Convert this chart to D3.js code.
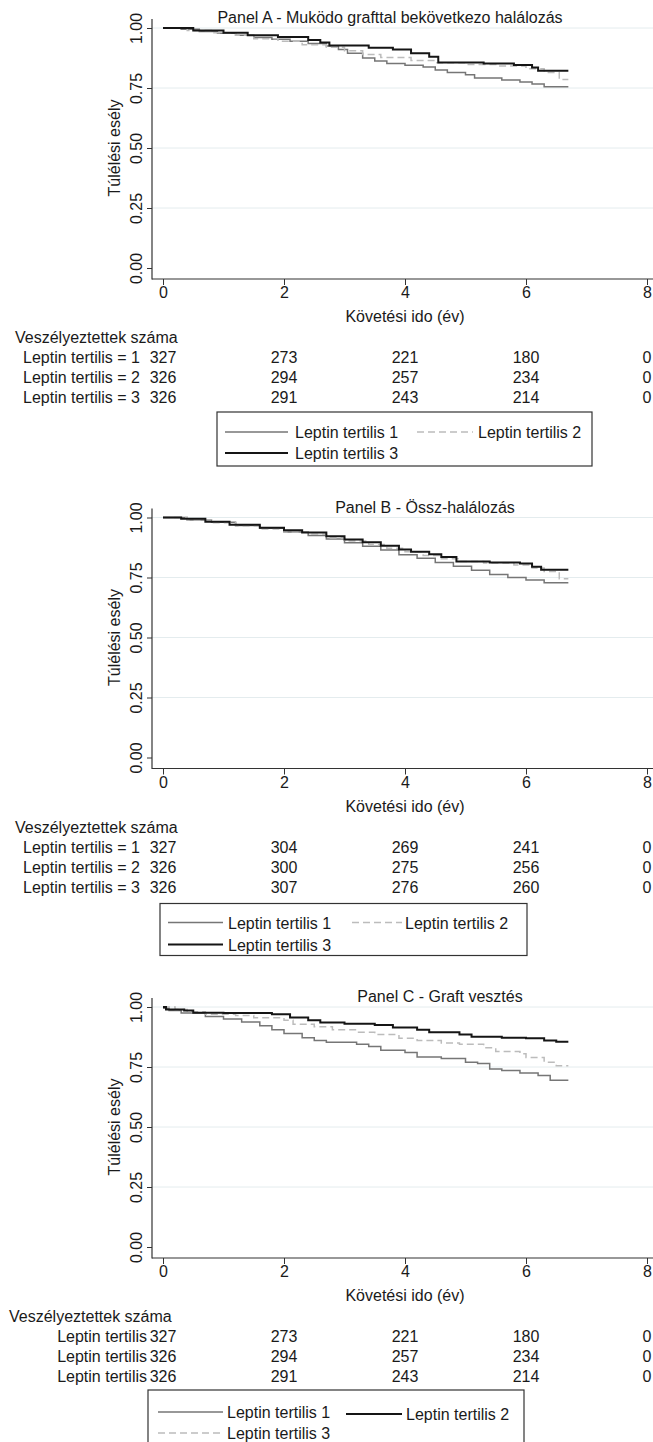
<!DOCTYPE html>
<html>
<head>
<meta charset="utf-8">
<script src="https://cdn.jsdelivr.net/npm/d3@7/dist/d3.min.js"></script>
<style>
  body { margin: 0; background: #fff; }
  svg { display: block; font-family: "Liberation Sans", Arial, sans-serif; }
</style>
</head>
<body>
<svg></svg>
<script>
const width = 653;
const height = 1442;

// Texts
const panelTitles = [
    "Panel A - Muködo grafttal bekövetkezo halálozás",
    "Panel B - Össz-halálozás",
    "Panel C - Graft vesztés"
];
const yTitle = "Túlélési esély";
const xTitle = "Követési ido (év)";
const riskTitle = "Veszélyeztettek száma";
const yTicks = [0, 0.25, 0.5, 0.75, 1];
const xTicks = [0, 2, 4, 6, 8];
const rowLabelsAB = ["Leptin tertilis = 1", "Leptin tertilis = 2", "Leptin tertilis = 3"];
const rowLabelsC = ["Leptin tertilis", "Leptin tertilis", "Leptin tertilis"];
const legendLabels = ["Leptin tertilis 1", "Leptin tertilis 2", "Leptin tertilis 3"];

// Number at risk, rows = tertile 1..3, columns = xTicks
const riskA = [[327, 273, 221, 180, 0], [326, 294, 257, 234, 0], [326, 291, 243, 214, 0]];
const riskB = [[327, 304, 269, 241, 0], [326, 300, 275, 256, 0], [326, 307, 276, 260, 0]];
const riskC = [[327, 273, 221, 180, 0], [326, 294, 257, 234, 0], [326, 291, 243, 214, 0]];

// Kaplan-Meier steps [years, survival]
const kmA1 = [[0,1],[0.3,.995],[0.6,.985],[0.9,.978],[1.2,.97],[1.5,.96],[1.8,.953],[2.1,.945],[2.4,.935],[2.7,.925],[2.9,.91],[3.05,.895],[3.3,.875],[3.5,.862],[3.7,.852],[4.0,.845],[4.3,.838],[4.5,.825],[4.7,.815],[5.0,.805],[5.15,.792],[5.6,.783],[5.9,.775],[6.1,.767],[6.3,.755],[6.7,.755]];
const kmA2 = [[0,1],[0.4,.99],[0.8,.98],[1.2,.97],[1.5,.955],[1.9,.945],[2.3,.93],[2.7,.92],[3.0,.905],[3.3,.89],[3.6,.877],[4.1,.865],[4.5,.855],[5.0,.848],[5.5,.842],[6.0,.83],[6.3,.815],[6.55,.785],[6.7,.785]];
const kmA3 = [[0,1],[0.5,.99],[1.0,.98],[1.4,.97],[1.9,.962],[2.4,.95],[2.6,.94],[2.75,.927],[3.4,.918],[3.8,.91],[4.1,.895],[4.4,.88],[4.55,.856],[5.3,.852],[5.8,.846],[6.1,.835],[6.2,.822],[6.7,.822]];

const kmB1 = [[0,1],[0.4,.99],[0.8,.98],[1.2,.967],[1.6,.955],[2.0,.94],[2.4,.925],[2.7,.91],[3.0,.895],[3.3,.88],[3.6,.865],[3.9,.845],[4.2,.83],[4.5,.812],[4.8,.797],[5.1,.78],[5.4,.762],[5.7,.75],[6.0,.74],[6.3,.728],[6.7,.728]];
const kmB2 = [[0,1],[0.4,.99],[0.8,.978],[1.2,.965],[1.6,.952],[2.0,.94],[2.4,.93],[2.7,.915],[3.0,.902],[3.4,.887],[3.7,.872],[4.0,.857],[4.3,.842],[4.6,.828],[4.9,.817],[5.3,.81],[5.8,.802],[6.1,.79],[6.3,.775],[6.55,.745],[6.7,.745]];
const kmB3 = [[0,1],[0.3,.995],[0.7,.982],[1.1,.97],[1.6,.957],[2.0,.947],[2.3,.937],[2.7,.922],[3.0,.908],[3.3,.897],[3.6,.882],[3.9,.867],[4.1,.857],[4.4,.847],[4.6,.835],[4.85,.817],[5.4,.813],[5.9,.808],[6.1,.795],[6.25,.782],[6.7,.782]];

const kmC1 = [[0,.995],[0.1,.985],[0.3,.975],[0.7,.96],[1.0,.95],[1.3,.938],[1.6,.922],[1.8,.905],[2.0,.89],[2.3,.872],[2.5,.86],[2.7,.853],[3.2,.845],[3.4,.835],[3.6,.82],[4.0,.81],[4.2,.792],[4.6,.785],[5.0,.77],[5.2,.765],[5.4,.742],[5.6,.735],[5.9,.725],[6.2,.715],[6.4,.695],[6.7,.695]];
const kmC2 = [[0,1],[0.2,.99],[0.4,.98],[0.7,.97],[1.2,.965],[1.5,.955],[2.0,.945],[2.15,.928],[2.5,.918],[2.8,.905],[3.2,.895],[3.5,.885],[3.9,.87],[4.2,.86],[4.6,.85],[4.9,.845],[5.3,.83],[5.5,.815],[5.9,.805],[6.0,.79],[6.3,.77],[6.5,.755],[6.7,.755]];
const kmC3 = [[0,1],[0.05,.99],[0.35,.985],[0.5,.976],[1.0,.975],[1.8,.97],[2.1,.956],[2.4,.945],[2.6,.935],[3.0,.93],[3.5,.925],[3.8,.915],[4.2,.905],[4.4,.895],[4.9,.885],[5.1,.876],[5.6,.872],[6.0,.87],[6.3,.86],[6.5,.855],[6.7,.855]];

// Line styles
const styles = {
    grey: { stroke: "#767676", width: 1.5, dash: null },
    dash: { stroke: "#bcbcbc", width: 1.5, dash: "7,4" },
    black: { stroke: "#151515", width: 2, dash: null }
};

const svg = d3.select("svg")
    .attr("width", width)
    .attr("height", height);

const x = d3.scaleLinear().domain([0, 8]).range([163, 647]);
const pitch = 489.5;
const fontSize = 16;

const panels = [
    {
        title: panelTitles[0], titleX: 390, curves: [[kmA1, "grey"], [kmA2, "dash"], [kmA3, "black"]],
        risk: riskA, rowLabels: rowLabelsAB, rowRight: 140, riskX: 15,
        legendBox: [217, 412, 592, 466],
        legend: [
            { label: legendLabels[0], style: "grey", x1: 225, x2: 288, tx: 295, y: 432 },
            { label: legendLabels[1], style: "dash", x1: 417, x2: 473, tx: 478, y: 432 },
            { label: legendLabels[2], style: "black", x1: 225, x2: 288, tx: 295, y: 453 }
        ]
    },
    {
        title: panelTitles[1], titleX: 425, curves: [[kmB1, "grey"], [kmB2, "dash"], [kmB3, "black"]],
        risk: riskB, rowLabels: rowLabelsAB, rowRight: 140, riskX: 15,
        legendBox: [160, 414, 527, 466],
        legend: [
            { label: legendLabels[0], style: "grey", x1: 168, x2: 223, tx: 228, y: 433 },
            { label: legendLabels[1], style: "dash", x1: 352, x2: 402, tx: 405, y: 433 },
            { label: legendLabels[2], style: "black", x1: 168, x2: 223, tx: 228, y: 455 }
        ]
    },
    {
        title: panelTitles[2], titleX: 440, curves: [[kmC1, "grey"], [kmC2, "dash"], [kmC3, "black"]],
        risk: riskC, rowLabels: rowLabelsC, rowRight: 147, riskX: 9,
        legendBox: [148, 411, 524, 470],
        legend: [
            { label: legendLabels[0], style: "grey", x1: 158, x2: 223, tx: 227, y: 433 },
            { label: legendLabels[1], style: "black", x1: 346, x2: 402, tx: 406, y: 435 },
            { label: legendLabels[2], style: "dash", x1: 158, x2: 221, tx: 227, y: 454 }
        ]
    }
];

function applyStyle(sel, name) {
    const s = styles[name];
    sel.attr("fill", "none")
        .attr("stroke", s.stroke)
        .attr("stroke-width", s.width);
    if (s.dash) sel.attr("stroke-dasharray", s.dash);
    return sel;
}

panels.forEach((p, i) => {
    const g = svg.append("g").attr("transform", `translate(0,${i * pitch})`);
    const y = d3.scaleLinear().domain([0, 1]).range([268, 28]);

    // Gridlines
    g.selectAll(".grid")
        .data(yTicks.filter(d => d > 0))
        .enter()
        .append("line")
        .attr("x1", 152).attr("x2", width)
        .attr("y1", d => y(d)).attr("y2", d => y(d))
        .attr("stroke", "#e4ecee")
        .attr("stroke-width", 1);

    // Y axis
    const yAxis = g.append("g")
        .attr("transform", "translate(152,0)")
        .call(d3.axisLeft(y).tickValues(yTicks).tickSize(5).tickSizeOuter(0).tickFormat(d3.format(".2f")));
    yAxis.select(".domain").remove();
    yAxis.selectAll(".tick line").attr("stroke", "#333");
    yAxis.selectAll(".tick text")
        .attr("x", null).attr("dy", null)
        .attr("text-anchor", "middle")
        .attr("transform", "translate(-10,0) rotate(-90)")
        .style("font-size", fontSize + "px")
        .attr("fill", "#1a1a1a");
    g.append("line")
        .attr("x1", 152).attr("x2", 152)
        .attr("y1", 19).attr("y2", 279.5)
        .attr("stroke", "#333").attr("stroke-width", 1.2);

    // X axis
    const xAxis = g.append("g")
        .attr("transform", "translate(0,279)")
        .call(d3.axisBottom(x).tickValues(xTicks).tickSize(6).tickSizeOuter(0).tickFormat(d3.format("d")));
    xAxis.select(".domain").remove();
    xAxis.selectAll(".tick line").attr("stroke", "#333");
    xAxis.selectAll(".tick text")
        .attr("y", 19).attr("dy", null)
        .style("font-size", fontSize + "px")
        .attr("fill", "#1a1a1a");
    g.append("line")
        .attr("x1", 152).attr("x2", width)
        .attr("y1", 279).attr("y2", 279)
        .attr("stroke", "#333").attr("stroke-width", 1.2);

    // Titles
    g.append("text")
        .attr("x", p.titleX).attr("y", 23)
        .attr("text-anchor", "middle")
        .style("font-size", fontSize + "px")
        .attr("fill", "#1a1a1a")
        .text(p.title);
    g.append("text")
        .attr("transform", `translate(120,${y(0.5)}) rotate(-90)`)
        .attr("text-anchor", "middle")
        .style("font-size", fontSize + "px")
        .attr("fill", "#1a1a1a")
        .text(yTitle);
    g.append("text")
        .attr("x", 405).attr("y", 322)
        .attr("text-anchor", "middle")
        .style("font-size", fontSize + "px")
        .attr("fill", "#1a1a1a")
        .text(xTitle);

    // Curves
    const line = d3.line()
        .x(d => x(d[0]))
        .y(d => y(d[1]))
        .curve(d3.curveStepAfter);
    p.curves.forEach(([data, style]) => {
        applyStyle(g.append("path").datum(data).attr("d", line), style);
    });

    // Number at risk table
    g.append("text")
        .attr("x", p.riskX).attr("y", 343)
        .style("font-size", fontSize + "px")
        .attr("fill", "#1a1a1a")
        .text(riskTitle);
    p.risk.forEach((row, r) => {
        const ry = 363 + r * 20;
        g.append("text")
            .attr("x", p.rowRight).attr("y", ry)
            .attr("text-anchor", "end")
            .style("font-size", fontSize + "px")
            .attr("fill", "#1a1a1a")
            .text(p.rowLabels[r]);
        g.selectAll(null)
            .data(row)
            .enter()
            .append("text")
            .attr("x", (d, k) => x(xTicks[k]))
            .attr("y", ry)
            .attr("text-anchor", "middle")
            .style("font-size", fontSize + "px")
            .attr("fill", "#1a1a1a")
            .text(d => d);
    });

    // Legend
    const [bx1, by1, bx2, by2] = p.legendBox;
    g.append("rect")
        .attr("x", bx1).attr("y", by1)
        .attr("width", bx2 - bx1).attr("height", by2 - by1)
        .attr("fill", "#fff")
        .attr("stroke", "#333")
        .attr("stroke-width", 1.2);
    p.legend.forEach(item => {
        applyStyle(g.append("line")
            .attr("x1", item.x1).attr("x2", item.x2)
            .attr("y1", item.y).attr("y2", item.y), item.style);
        g.append("text")
            .attr("x", item.tx).attr("y", item.y + 6)
            .style("font-size", fontSize + "px")
            .attr("fill", "#1a1a1a")
            .text(item.label);
    });
});
</script>
</body>
</html>
